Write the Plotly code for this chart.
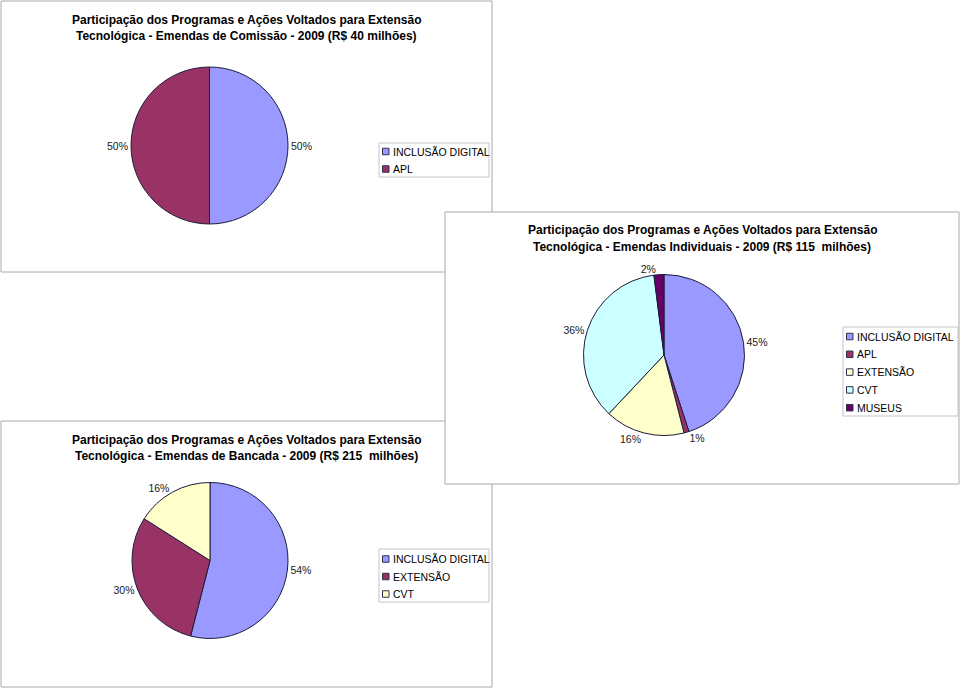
import plotly.graph_objects as go

W, H = 960, 689

# ---------------- data ----------------
title1 = ["Participação dos Programas e Ações Voltados para Extensão",
          "Tecnológica - Emendas de Comissão - 2009 (R$ 40 milhões)"]
labels1 = ["INCLUSÃO DIGITAL", "APL"]
values1 = [50, 50]

title2 = ["Participação dos Programas e Ações Voltados para Extensão",
          "Tecnológica - Emendas Individuais - 2009 (R$ 115\u00a0 milhões)"]
labels2 = ["INCLUSÃO DIGITAL", "APL", "EXTENSÃO", "CVT", "MUSEUS"]
values2 = [45, 1, 16, 36, 2]

title3 = ["Participação dos Programas e Ações Voltados para Extensão",
          "Tecnológica - Emendas de Bancada - 2009 (R$ 215\u00a0 milhões)"]
labels3 = ["INCLUSÃO DIGITAL", "EXTENSÃO", "CVT"]
values3 = [54, 30, 16]

colors1 = ["#9999FF", "#993366"]
colors2 = ["#9999FF", "#993366", "#FFFFCC", "#CCFFFF", "#660066"]
colors3 = ["#9999FF", "#993366", "#FFFFCC"]

# ---------------- layout constants (pixels) ----------------
FONT = "Liberation Sans, Arial, sans-serif"
EDGE = "#1c1c3c"


def X(px):
    return px / W


def Y(py):
    return 1 - py / H


panels = [  # x0, y0, x1, y1 (draw order)
    dict(box=(1, 1, 492, 272)),
    dict(box=(1, 421, 492, 687)),
    dict(box=(445, 212, 959, 484)),
]

charts = [
    dict(title=title1, labels=labels1, values=values1, colors=colors1,
         center=(209.5, 145.5), r=78.5, title_cx=246.5, title_y=(20, 36),
         leg_box=(379, 143, 489, 177), leg_y0=151.5, leg_dy=17.5),
    dict(title=title2, labels=labels2, values=values2, colors=colors2,
         center=(664, 355), r=80.5, title_cx=702, title_y=(230, 246.5),
         leg_box=(843, 327, 958, 416), leg_y0=336.5, leg_dy=17.8),
    dict(title=title3, labels=labels3, values=values3, colors=colors3,
         center=(210, 560.5), r=78, title_cx=246.5, title_y=(440, 456),
         leg_box=(379, 549, 489, 602), leg_y0=559, leg_dy=17.5),
]

fig = go.Figure()
shapes = []
annotations = []

for p in panels:
    x0, y0, x1, y1 = p["box"]
    shapes.append(dict(type="rect", xref="paper", yref="paper",
                       x0=X(x0), x1=X(x1), y0=Y(y1), y1=Y(y0),
                       line=dict(color="#a8a8a8", width=1),
                       fillcolor="white", layer="below"))

for c in charts:
    cx, cy = c["center"]
    r = c["r"]
    fig.add_trace(go.Pie(
        labels=c["labels"], values=c["values"],
        marker=dict(colors=c["colors"], line=dict(color=EDGE, width=1)),
        sort=False, direction="clockwise", rotation=0,
        textinfo="percent", texttemplate="%{percent:.0%}",
        textposition="outside",
        outsidetextfont=dict(family=FONT, size=10.5, color="#1a1a1a"),
        domain=dict(x=[X(cx - r), X(cx + r)], y=[Y(cy + r), Y(cy - r)]),
        showlegend=False, hoverinfo="label+percent",
    ))
    # titles
    for line, ty in zip(c["title"], c["title_y"]):
        annotations.append(dict(
            xref="paper", yref="paper", x=X(c["title_cx"]), y=Y(ty),
            xanchor="center", yanchor="middle", showarrow=False,
            text="<b>" + line + "</b>",
            font=dict(family=FONT, size=12, color="#000000")))
    # legend box
    lx0, ly0, lx1, ly1 = c["leg_box"]
    shapes.append(dict(type="rect", xref="paper", yref="paper",
                       x0=X(lx0), x1=X(lx1), y0=Y(ly1), y1=Y(ly0),
                       line=dict(color="#c4c4c4", width=1),
                       fillcolor="white", layer="above"))
    for i, (lab, col) in enumerate(zip(c["labels"], c["colors"])):
        iy = c["leg_y0"] + i * c["leg_dy"]
        sx = lx0 + 3.5
        shapes.append(dict(type="rect", xref="paper", yref="paper",
                           x0=X(sx), x1=X(sx + 6.5), y0=Y(iy + 3.25), y1=Y(iy - 3.25),
                           line=dict(color="#303050", width=1),
                           fillcolor=col, layer="above"))
        annotations.append(dict(
            xref="paper", yref="paper", x=X(sx + 8.5), y=Y(iy),
            xanchor="left", yanchor="middle", showarrow=False,
            text=lab, font=dict(family=FONT, size=10.5, color="#000000")))

fig.update_layout(
    width=W, height=H,
    margin=dict(l=0, r=0, t=0, b=0),
    paper_bgcolor="white", plot_bgcolor="white",
    shapes=shapes, annotations=annotations,
    showlegend=False,
)

fig.write_html("out.html", config={"displayModeBar": False},
               post_script="document.body.style.margin='0px';")
